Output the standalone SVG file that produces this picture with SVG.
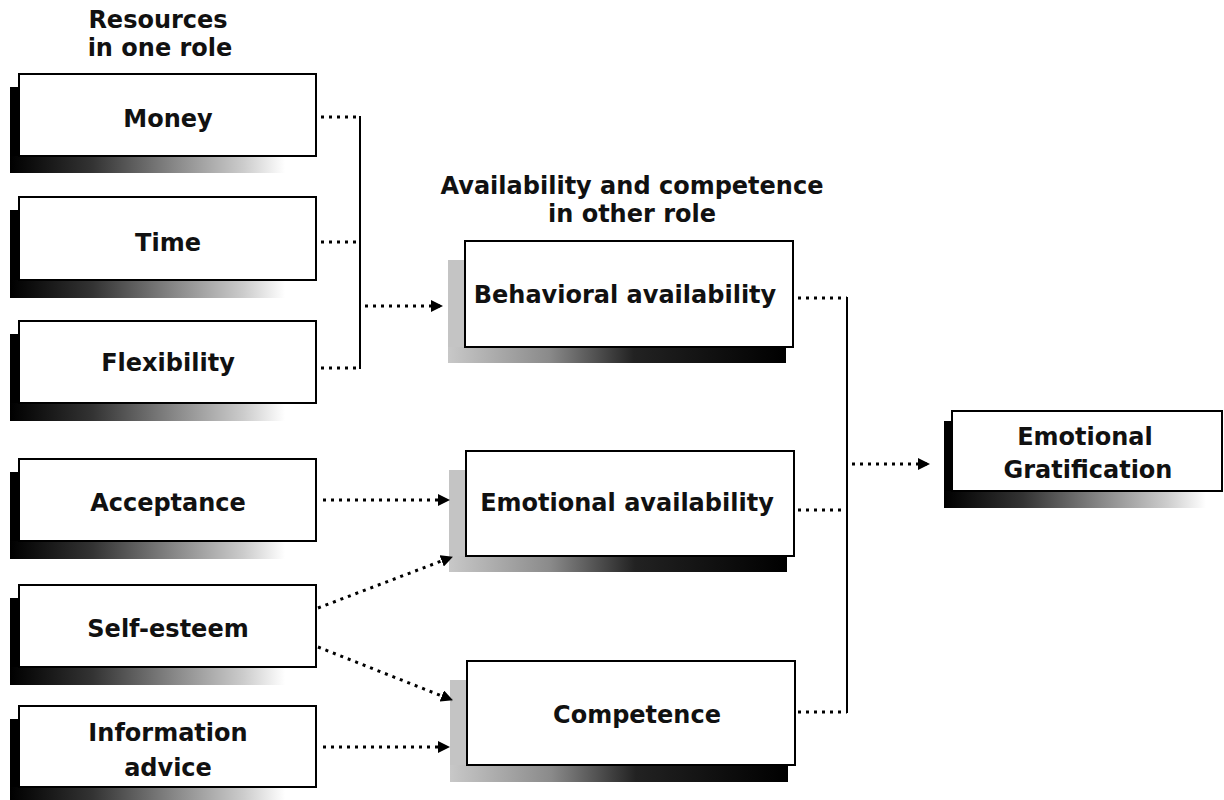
<svg xmlns="http://www.w3.org/2000/svg" width="1224" height="800" viewBox="0 0 1224 800">
<defs>
  <linearGradient id="gLeft" x1="0" y1="0" x2="1" y2="0">
    <stop offset="0" stop-color="#000"/>
    <stop offset="0.3" stop-color="#333"/>
    <stop offset="0.6" stop-color="#888"/>
    <stop offset="0.85" stop-color="#ccc"/>
    <stop offset="1" stop-color="#fff"/>
  </linearGradient>
  <linearGradient id="gMid" x1="0" y1="0" x2="1" y2="0">
    <stop offset="0" stop-color="#c8c8c8"/>
    <stop offset="0.3" stop-color="#8a8a8a"/>
    <stop offset="0.55" stop-color="#222"/>
    <stop offset="1" stop-color="#000"/>
  </linearGradient>
  <marker id="arr" viewBox="0 0 12 12" refX="11" refY="6" markerWidth="12" markerHeight="12" markerUnits="userSpaceOnUse" orient="auto">
    <path d="M0,0 L12,6 L0,12 Z" fill="#000"/>
  </marker>
  <style>
    .box{fill:#fff;stroke:#000;stroke-width:2}
    .sd{fill:#000}
    .sl{fill:#c4c4c4}
    .t{font-family:"DejaVu Sans","Open Sans",sans-serif;font-weight:bold;font-size:24px;fill:#111;text-anchor:middle}
    .h{font-family:"DejaVu Sans","Open Sans",sans-serif;font-weight:bold;font-size:24px;fill:#111;text-anchor:middle}
    .dot{stroke:#000;stroke-width:3;stroke-dasharray:3 5;fill:none}
    .ln{stroke:#000;stroke-width:2;fill:none}
  </style>
</defs>
<rect width="1224" height="800" fill="#fff"/>

<g id="title-left">
  <text class="h" x="158" y="28">Resources</text>
  <text class="h" x="160" y="56">in one role</text>
</g>
<g id="title-mid">
  <text class="h" x="632" y="194">Availability and competence</text>
  <text class="h" x="632" y="222">in other role</text>
</g>

<g id="money">
  <rect class="sd" x="10" y="87" width="10" height="86"/>
  <rect x="10" y="156" width="275" height="17" fill="url(#gLeft)"/>
  <rect class="box" x="19" y="74" width="297" height="82"/>
  <text class="t" x="168" y="127">Money</text>
</g>
<g id="time">
  <rect class="sd" x="10" y="210" width="10" height="88"/>
  <rect x="10" y="280" width="275" height="18" fill="url(#gLeft)"/>
  <rect class="box" x="19" y="197" width="297" height="83"/>
  <text class="t" x="168" y="251">Time</text>
</g>
<g id="flexibility">
  <rect class="sd" x="10" y="334" width="10" height="87"/>
  <rect x="10" y="403" width="275" height="18" fill="url(#gLeft)"/>
  <rect class="box" x="19" y="321" width="297" height="82"/>
  <text class="t" x="168" y="371">Flexibility</text>
</g>
<g id="acceptance">
  <rect class="sd" x="10" y="472" width="10" height="87"/>
  <rect x="10" y="541" width="275" height="18" fill="url(#gLeft)"/>
  <rect class="box" x="19" y="459" width="297" height="82"/>
  <text class="t" x="168" y="511">Acceptance</text>
</g>
<g id="self-esteem">
  <rect class="sd" x="10" y="598" width="10" height="87"/>
  <rect x="10" y="667" width="275" height="18" fill="url(#gLeft)"/>
  <rect class="box" x="19" y="585" width="297" height="82"/>
  <text class="t" x="168" y="637">Self-esteem</text>
</g>
<g id="information-advice">
  <rect class="sd" x="10" y="719" width="10" height="81"/>
  <rect x="10" y="787" width="275" height="13" fill="url(#gLeft)"/>
  <rect class="box" x="19" y="706" width="297" height="81"/>
  <text class="t" x="168" y="741">Information</text>
  <text class="t" x="168" y="776">advice</text>
</g>

<g id="behavioral-availability">
  <rect class="sl" x="448" y="260" width="18" height="103"/>
  <rect x="448" y="347" width="338" height="16" fill="url(#gMid)"/>
  <rect class="box" x="465" y="241" width="328" height="106"/>
  <text class="t" x="625" y="303">Behavioral availability</text>
</g>
<g id="emotional-availability">
  <rect class="sl" x="449" y="470" width="18" height="102"/>
  <rect x="449" y="556" width="338" height="16" fill="url(#gMid)"/>
  <rect class="box" x="466" y="451" width="328" height="105"/>
  <text class="t" x="627" y="511">Emotional availability</text>
</g>
<g id="competence">
  <rect class="sl" x="450" y="680" width="18" height="102"/>
  <rect x="450" y="765" width="338" height="17" fill="url(#gMid)"/>
  <rect class="box" x="467" y="661" width="328" height="104"/>
  <text class="t" x="637" y="723">Competence</text>
</g>

<g id="emotional-gratification">
  <rect class="sd" x="944" y="421" width="9" height="87"/>
  <rect x="944" y="491" width="262" height="17" fill="url(#gLeft)"/>
  <rect class="box" x="952" y="411" width="270" height="80"/>
  <text class="t" x="1085" y="445">Emotional</text>
  <text class="t" x="1088" y="478">Gratification</text>
</g>

<g id="connectors">
  <path class="ln" d="M360,116 V369"/>
  <path class="dot" d="M321,117 H360"/>
  <path class="dot" d="M321,242 H360"/>
  <path class="dot" d="M321,368 H360"/>
  <path class="dot" d="M365,306 H442" marker-end="url(#arr)"/>

  <path class="ln" d="M847,297 V713"/>
  <path class="dot" d="M798,298 H847"/>
  <path class="dot" d="M798,510 H847"/>
  <path class="dot" d="M798,712 H847"/>
  <path class="dot" d="M852,464 H929" marker-end="url(#arr)"/>

  <path class="dot" d="M323,500 H449" marker-end="url(#arr)"/>
  <path class="dot" d="M318,608 L452,557" marker-end="url(#arr)"/>
  <path class="dot" d="M318,647 L452,700" marker-end="url(#arr)"/>
  <path class="dot" d="M323,747 H449" marker-end="url(#arr)"/>
</g>
</svg>
